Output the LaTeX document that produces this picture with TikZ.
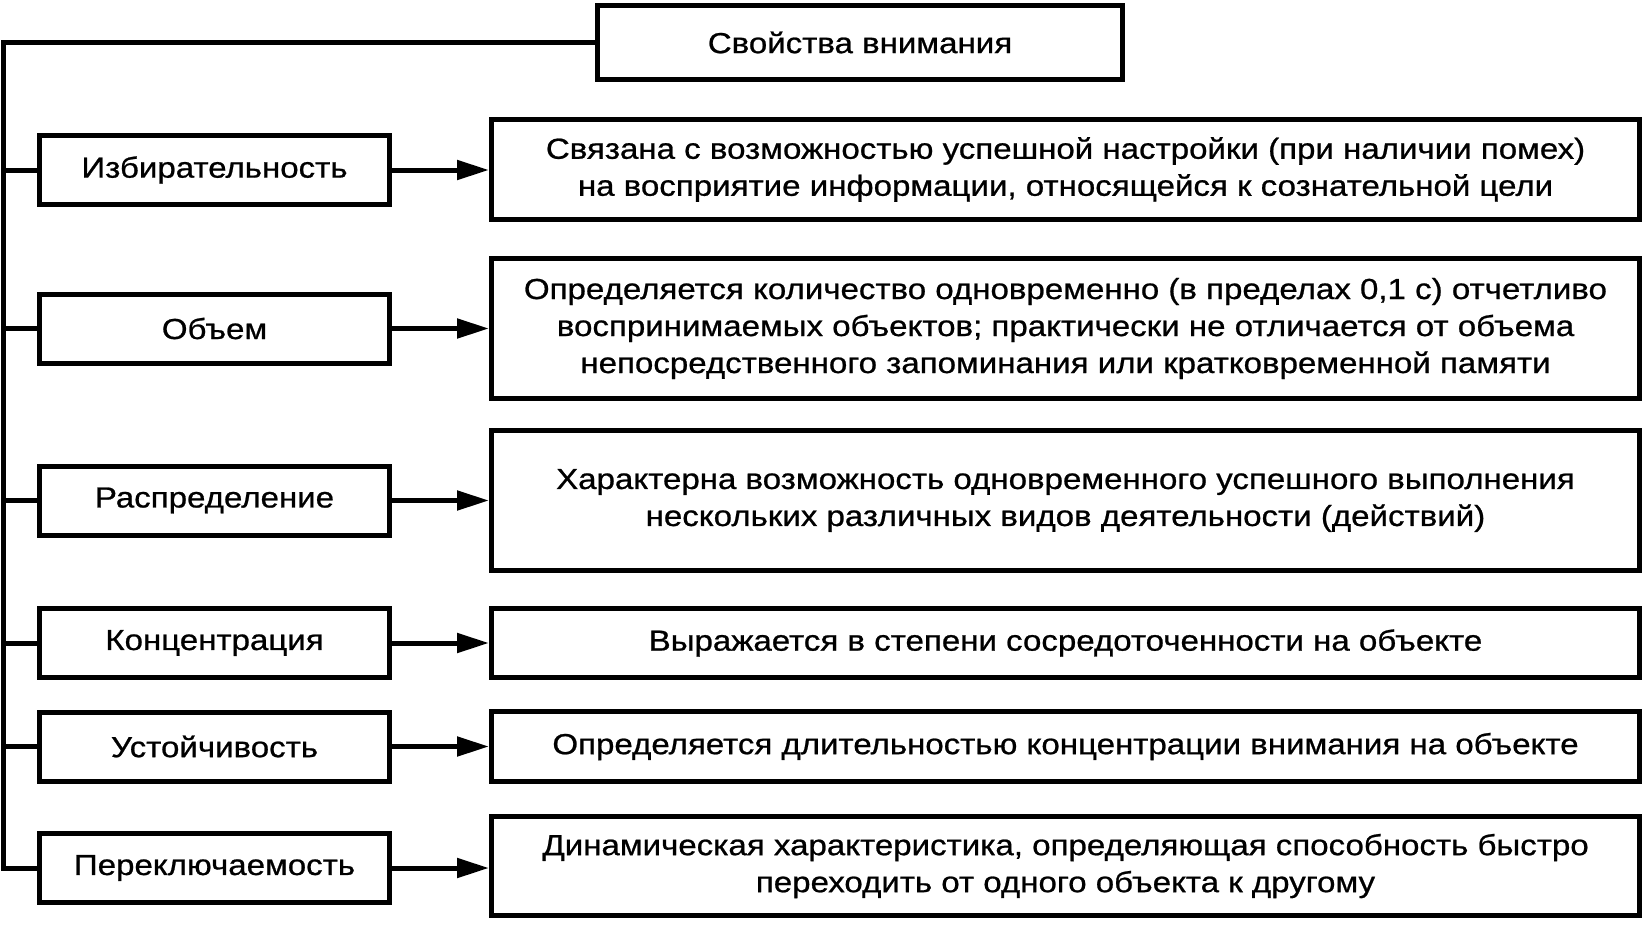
\documentclass[tikz,border=0pt]{standalone}
\usepackage{fontspec}
\setmainfont{Liberation Sans}[FakeStretch=1.14,FakeBold=0.8]
\usetikzlibrary{arrows.meta}
\begin{document}
\begin{tikzpicture}[x=1pt,y=-1pt,
  box/.style={draw,line width=5pt,rectangle,inner sep=0pt,align=center,
    font=\fontsize{29}{37}\selectfont},
  lbox/.style={box,minimum width=350pt,minimum height=69pt},
  rbox/.style={box,minimum width=1148pt},
  conn/.style={line width=5pt},
  arr/.style={line width=5pt,-{Triangle[length=32pt,width=19pt]}}]
\useasboundingbox (0,0) rectangle (1645,924);
\node[box,minimum width=525pt,minimum height=74pt] (title) at (860,42.5) {Свойства внимания};
\node[lbox] (l1) at (214.5,170) {Избирательность};
\node[lbox] (l2) at (214.5,328.5) {Объем};
\node[lbox] (l3) at (214.5,500.5) {Распределение};
\node[lbox] (l4) at (214.5,643) {Концентрация};
\node[lbox] (l5) at (214.5,746.5) {Устойчивость};
\node[lbox] (l6) at (214.5,868) {Переключаемость};
\node[rbox,minimum height=100pt] (r1) at (1065.5,169.5) {Связана с возможностью успешной настройки (при наличии помех)\\на восприятие информации, относящейся к сознательной цели};
\node[rbox,minimum height=140pt] (r2) at (1065.5,328.5) {Определяется количество одновременно (в пределах 0,1 с) отчетливо\\воспринимаемых объектов; практически не отличается от объема\\непосредственного запоминания или кратковременной памяти};
\node[rbox,minimum height=140pt] (r3) at (1065.5,500.5) {Характерна возможность одновременного успешного выполнения\\нескольких различных видов деятельности (действий)};
\node[rbox,minimum height=69pt] (r4) at (1065.5,643) {Выражается в степени сосредоточенности на объекте};
\node[rbox,minimum height=70pt] (r5) at (1065.5,746.5) {Определяется длительностью концентрации внимания на объекте};
\node[rbox,minimum height=99pt] (r6) at (1065.5,866) {Динамическая характеристика, определяющая способность быстро\\переходить от одного объекта к другому};
\coordinate (corner) at (3.5,42.5);
\draw[conn] (title.west) -- (corner) |- (l6.west);
\foreach \i in {1,...,5} {\draw[conn] (corner |- l\i.west) -- (l\i.west);}
\foreach \i in {1,...,6} {\draw[arr] (l\i.east) -- (l\i.east -| r\i.west);}
\end{tikzpicture}
\end{document}
